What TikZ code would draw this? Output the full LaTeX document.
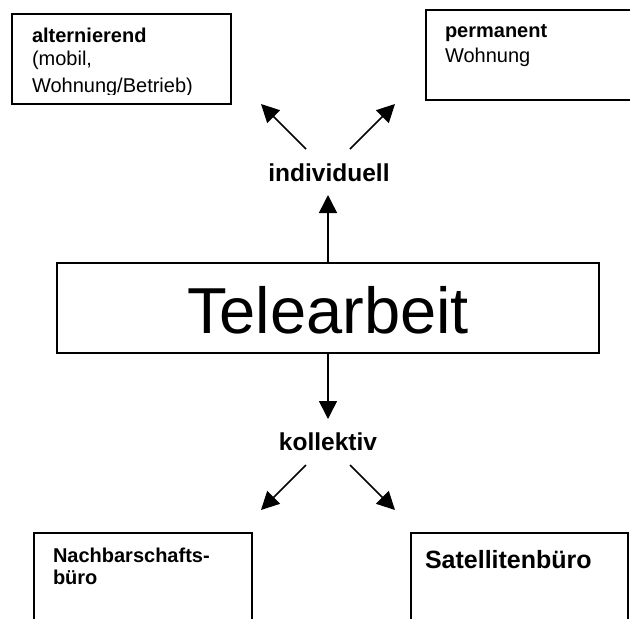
\documentclass[tikz,border=0pt]{standalone}
\usepackage{fontspec}
\setmainfont{Liberation Sans}
\usetikzlibrary{arrows.meta}
\begin{document}
\begin{tikzpicture}[x=1pt,y=-1pt,
  box/.style={draw=black,line width=1.5pt,inner sep=0pt,outer sep=0pt,rectangle},
  txt/.style={inner sep=0pt,outer sep=0pt,anchor=base west},
  lbl/.style={inner sep=0pt,outer sep=0pt,anchor=base,font=\fontsize{24.5}{28}\selectfont\bfseries},
  arr/.style={line width=1.5pt,-{Triangle[length=18pt,width=18pt]}},
  small/.style={font=\fontsize{20}{24}\selectfont},
  smallb/.style={font=\fontsize{20}{24}\selectfont\bfseries}]
\clip (0,0) rectangle (630,619);
\fill[white] (0,0) rectangle (630,619);
% boxes
\node[box,minimum width=219pt,minimum height=90pt] (alt) at (121.5,59) {};
\node[box,minimum width=214pt,minimum height=90pt] (perm) at (533,55) {};
\node[box,minimum width=542pt,minimum height=90pt] (tele) at (328,308) {};
\node[box,minimum width=218pt,minimum height=110pt] (nach) at (143,588) {};
\node[box,minimum width=217pt,minimum height=110pt] (sat) at (519.5,588) {};
% texts
\begin{scope}
\clip (12,14) rectangle (231,94.5);
\node[txt,smallb] (altA) at (32,42) {alternierend};
\node[txt,small] (altB) at (32,65) {(mobil,};
\node[txt,small] (altC) at (32,92) {Wohnung/Betrieb)};
\end{scope}
\node[txt,smallb] (permA) at (445,37) {permanent};
\node[txt,small] (permB) at (445,62) {Wohnung};
\node[inner sep=0pt,anchor=base,font=\fontsize{65}{70}\selectfont] (teleT) at (328,333) {Telearbeit};
\node[lbl] (ind) at (329,181) {individuell};
\node[lbl] (kol) at (328,450) {kollektiv};
\node[txt,smallb] (nachA) at (53,562) {Nachbarschafts-};
\node[txt,smallb] (nachB) at (53,584) {büro};
\node[txt,font=\fontsize{25}{30}\selectfont\bfseries] (satT) at (425,568) {Satellitenbüro};
% connector ends
\coordinate (indTL) at (306,149);
\coordinate (indTR) at (350,149);
\coordinate (altTip) at (261,104);
\coordinate (permTip) at (395,104);
\coordinate (indTip) at (328,195);
\coordinate (kolTip) at (328,419);
\coordinate (kolBL) at (306,465);
\coordinate (kolBR) at (350,465);
\coordinate (nachTip) at (261,510);
\coordinate (satTip) at (395,510);
% connectors
\draw[arr] (tele.north) -- (indTip);
\draw[arr] (tele.south) -- (kolTip);
\draw[arr] (indTL) -- (altTip);
\draw[arr] (indTR) -- (permTip);
\draw[arr] (kolBL) -- (nachTip);
\draw[arr] (kolBR) -- (satTip);
\end{tikzpicture}
\end{document}
